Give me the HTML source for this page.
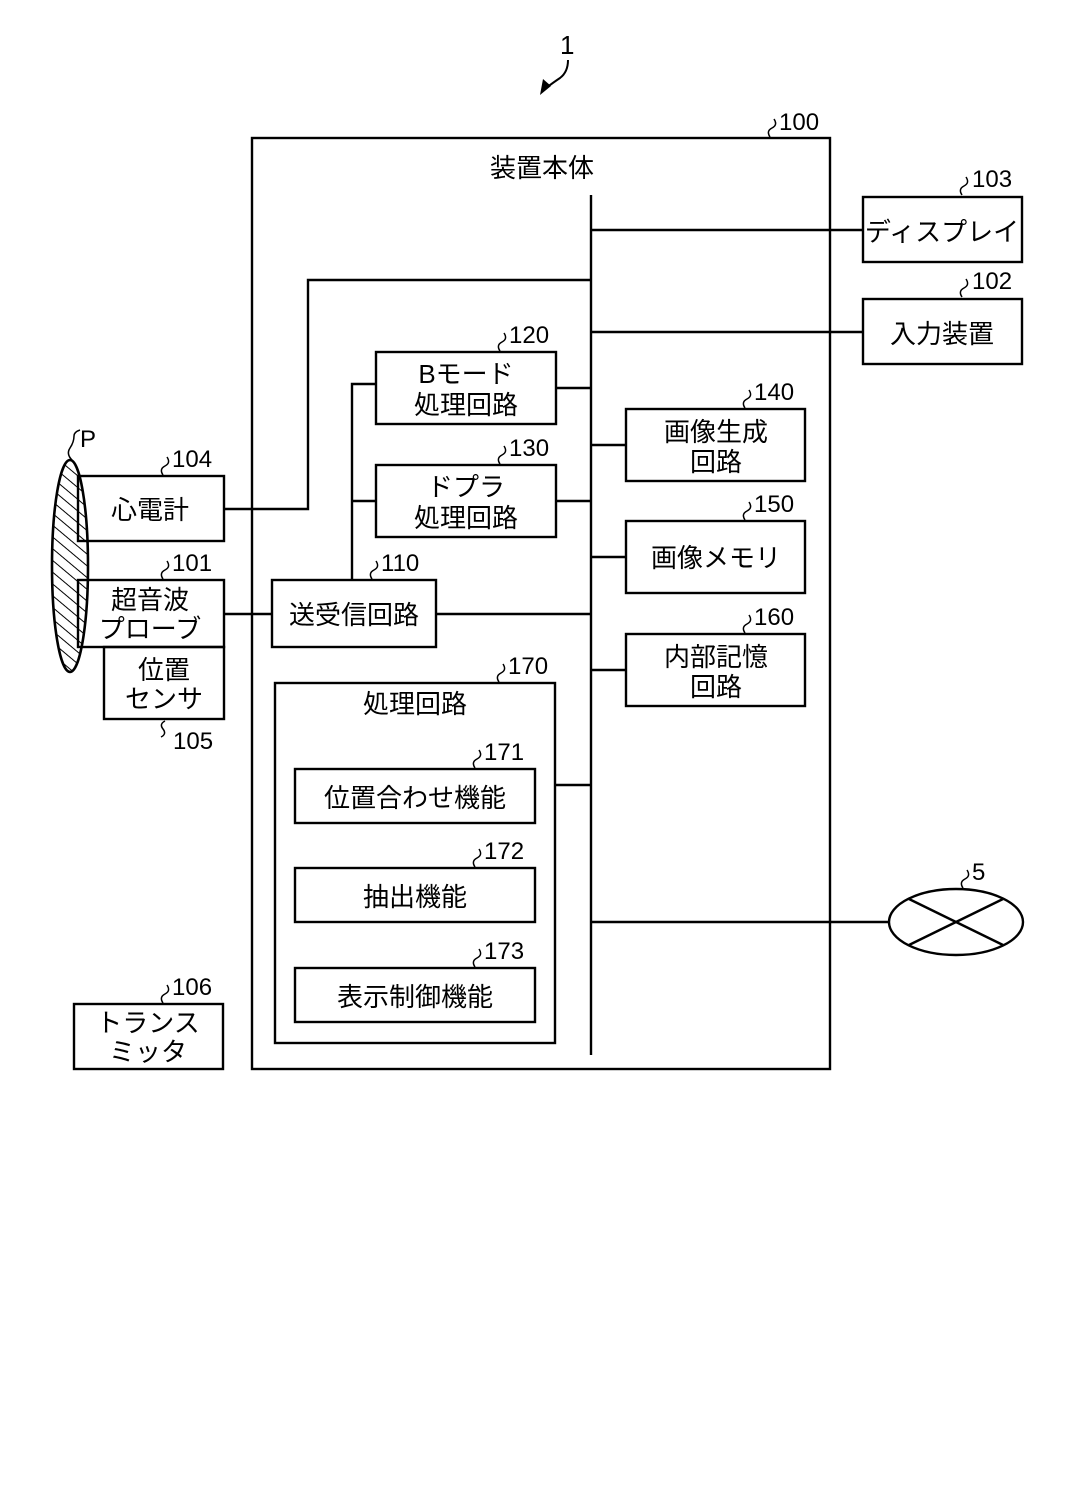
<!DOCTYPE html>
<html><head><meta charset="utf-8"><style>
html,body{margin:0;padding:0;background:#fff}
svg{display:block}
text{font-family:"Liberation Sans","Noto Sans CJK JP",sans-serif;fill:#000}
.b{font-size:26px;text-anchor:middle}
.n{font-size:24px}
</style></head><body>
<svg width="1087" height="1496" viewBox="0 0 1087 1496" xmlns="http://www.w3.org/2000/svg">
<defs><pattern id="h" width="9" height="9" patternUnits="userSpaceOnUse" patternTransform="rotate(-50)"><line x1="0" y1="0" x2="0" y2="9" stroke="#000" stroke-width="2"/></pattern></defs>
<g fill="none" stroke="#000" stroke-width="2.4">
<rect x="252" y="138" width="578" height="931"/>
<line x1="591" y1="195" x2="591" y2="1055"/>
<rect x="863" y="197" width="159" height="65"/>
<rect x="863" y="299" width="159" height="65"/>
<line x1="591" y1="230" x2="863" y2="230"/>
<line x1="591" y1="332" x2="863" y2="332"/>
<polyline points="224,509 308,509 308,280 591,280"/>
<rect x="376" y="352" width="180" height="72"/>
<rect x="376" y="465" width="180" height="72"/>
<line x1="556" y1="388" x2="591" y2="388"/>
<line x1="556" y1="501" x2="591" y2="501"/>
<polyline points="376,384 352,384 352,580"/>
<line x1="352" y1="501" x2="376" y2="501"/>
<rect x="272" y="580" width="164" height="67"/>
<line x1="224" y1="614" x2="272" y2="614"/>
<line x1="436" y1="614" x2="591" y2="614"/>
<rect x="626" y="409" width="179" height="72"/>
<rect x="626" y="521" width="179" height="72"/>
<rect x="626" y="634" width="179" height="72"/>
<line x1="591" y1="445" x2="626" y2="445"/>
<line x1="591" y1="557" x2="626" y2="557"/>
<line x1="591" y1="670" x2="626" y2="670"/>
<rect x="275" y="683" width="280" height="360"/>
<line x1="555" y1="785" x2="591" y2="785"/>
<rect x="295" y="769" width="240" height="54"/>
<rect x="295" y="868" width="240" height="54"/>
<rect x="295" y="968" width="240" height="54"/>
<line x1="591" y1="922" x2="890" y2="922"/>
<ellipse cx="956" cy="922" rx="67" ry="33"/>
<line x1="909" y1="899" x2="1003" y2="945"/>
<line x1="909" y1="945" x2="1003" y2="899"/>
<rect x="78" y="476" width="146" height="65"/>
<rect x="78" y="580" width="146" height="67"/>
<rect x="104" y="647" width="120" height="72"/>
<rect x="74" y="1004" width="149" height="65"/>
<ellipse cx="70" cy="566" rx="18" ry="106" fill="url(#h)" stroke-width="2.6"/>
<path d="M770,137 q-4,-6 2,-9 q6,-3 2,-9" stroke-width="1.5"/>
<path d="M962,195 q-4,-6 2,-9 q6,-3 2,-9" stroke-width="1.5"/>
<path d="M962,297 q-4,-6 2,-9 q6,-3 2,-9" stroke-width="1.5"/>
<path d="M500,351 q-4,-6 2,-9 q6,-3 2,-9" stroke-width="1.5"/>
<path d="M500,464 q-4,-6 2,-9 q6,-3 2,-9" stroke-width="1.5"/>
<path d="M745,408 q-4,-6 2,-9 q6,-3 2,-9" stroke-width="1.5"/>
<path d="M745,520 q-4,-6 2,-9 q6,-3 2,-9" stroke-width="1.5"/>
<path d="M745,633 q-4,-6 2,-9 q6,-3 2,-9" stroke-width="1.5"/>
<path d="M163,475 q-4,-6 2,-9 q6,-3 2,-9" stroke-width="1.5"/>
<path d="M163,579 q-4,-6 2,-9 q6,-3 2,-9" stroke-width="1.5"/>
<path d="M372,579 q-4,-6 2,-9 q6,-3 2,-9" stroke-width="1.5"/>
<path d="M499,682 q-4,-6 2,-9 q6,-3 2,-9" stroke-width="1.5"/>
<path d="M475,768 q-4,-6 2,-9 q6,-3 2,-9" stroke-width="1.5"/>
<path d="M475,867 q-4,-6 2,-9 q6,-3 2,-9" stroke-width="1.5"/>
<path d="M475,967 q-4,-6 2,-9 q6,-3 2,-9" stroke-width="1.5"/>
<path d="M163,1003 q-4,-6 2,-9 q6,-3 2,-9" stroke-width="1.5"/>
<path d="M963,888 q-4,-6 2,-9 q6,-3 2,-9" stroke-width="1.5"/>
<path d="M165,721 q-6,3 -2,8 q4,5 -2,8" stroke-width="1.5"/>
<path d="M72,460 q-6,-6 -2,-12 q4,-6 4,-12 q0,-4 6,-6" stroke-width="1.5"/>
<path d="M568,60 q0,12 -8,18 q-6,4 -14,10" stroke-width="2"/>
</g>
<polygon points="540,95 543,79 551,86" fill="#000"/>
<text class="n" x="560" y="54" style="font-size:26px">1</text>
<text class="n" x="779" y="130">100</text>
<text class="n" x="972" y="187">103</text>
<text class="n" x="972" y="289">102</text>
<text class="n" x="509" y="343">120</text>
<text class="n" x="509" y="456">130</text>
<text class="n" x="754" y="400">140</text>
<text class="n" x="754" y="512">150</text>
<text class="n" x="754" y="625">160</text>
<text class="n" x="172" y="467">104</text>
<text class="n" x="172" y="571">101</text>
<text class="n" x="381" y="571">110</text>
<text class="n" x="508" y="674">170</text>
<text class="n" x="484" y="760">171</text>
<text class="n" x="484" y="859">172</text>
<text class="n" x="484" y="959">173</text>
<text class="n" x="172" y="995">106</text>
<text class="n" x="173" y="749">105</text>
<text class="n" x="972" y="880">5</text>
<text class="n" x="80" y="447">P</text>
<text class="b" x="542" y="177">装置本体</text>
<text class="b" x="942" y="241">ディスプレイ</text>
<text class="b" x="942" y="343">入力装置</text>
<text class="b" x="466" y="383">Bモード</text>
<text class="b" x="466" y="414">処理回路</text>
<text class="b" x="466" y="496">ドプラ</text>
<text class="b" x="466" y="527">処理回路</text>
<text class="b" x="716" y="441">画像生成</text>
<text class="b" x="716" y="471">回路</text>
<text class="b" x="716" y="567">画像メモリ</text>
<text class="b" x="716" y="666">内部記憶</text>
<text class="b" x="716" y="696">回路</text>
<text class="b" x="150" y="519">心電計</text>
<text class="b" x="150" y="609">超音波</text>
<text class="b" x="150" y="638">プローブ</text>
<text class="b" x="164" y="679">位置</text>
<text class="b" x="164" y="708">センサ</text>
<text class="b" x="354" y="624">送受信回路</text>
<text class="b" x="415" y="713">処理回路</text>
<text class="b" x="415" y="807">位置合わせ機能</text>
<text class="b" x="415" y="906">抽出機能</text>
<text class="b" x="415" y="1006">表示制御機能</text>
<text class="b" x="148" y="1032">トランス</text>
<text class="b" x="148" y="1061">ミッタ</text>
</svg>
</body></html>
